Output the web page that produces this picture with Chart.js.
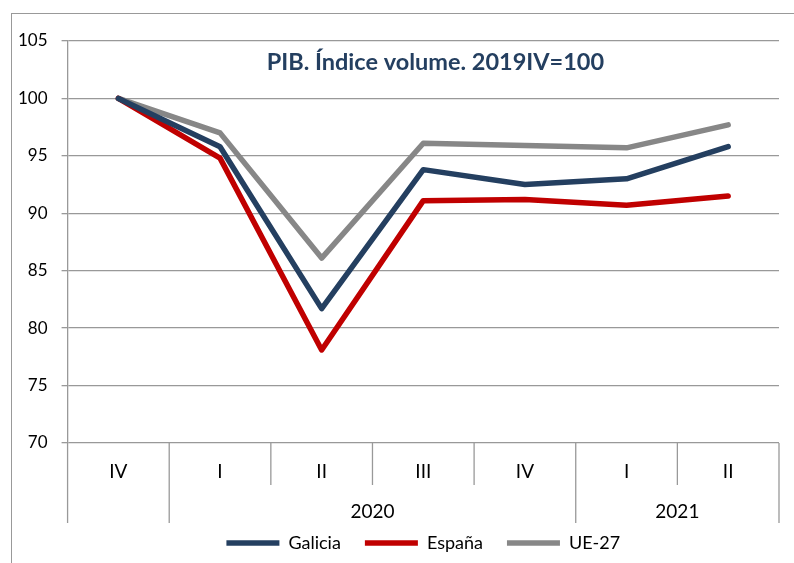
<!DOCTYPE html>
<html>
<head>
<meta charset="utf-8">
<script src="https://cdn.jsdelivr.net/npm/chart.js@4.4.0/dist/chart.umd.min.js"></script>
<style>
  html, body { margin: 0; padding: 0; background: #fff; }
  #wrap { position: relative; width: 794px; height: 563px; overflow: hidden; }
  #frame { position: absolute; left: 11px; top: 13px; width: 900px; height: 700px;
           border-left: 1.5px solid #999; border-top: 1.5px solid #999; }
  canvas { position: absolute; left: 0; top: 0; }
</style>
</head>
<body>
<div id="wrap">
  <div id="frame"></div>
  <canvas id="chart" width="794" height="563"></canvas>
</div>
<script>
  // Data
  const quarters = ['IV', 'I', 'II', 'III', 'IV', 'I', 'II'];
  const years = ['', '2020', '2020', '2020', '2020', '2021', '2021'];
  const galicia = [100, 95.8, 81.7, 93.8, 92.5, 93.0, 95.8];
  const espana = [100, 94.8, 78.1, 91.1, 91.2, 90.7, 91.5];
  const ue27 = [100, 97.0, 86.1, 96.1, 95.9, 95.7, 97.7];
  const titleText = 'PIB. Índice volume. 2019IV=100';

  const gridColor = '#999';
  const font = 'Lato';

  // Title drawn inside the plot, Excel style
  const innerTitle = {
    id: 'innerTitle',
    afterDraw(chart) {
      const { ctx, chartArea } = chart;
      ctx.save();
      ctx.font = `bold 23.5px ${font}`;
      ctx.fillStyle = '#243F60';
      ctx.textAlign = 'center';
      ctx.textBaseline = 'middle';
      ctx.fillText(titleText, chartArea.left + (chartArea.right - chartArea.left) * 0.517, chartArea.top + 21);
      ctx.restore();
    }
  };

  // Two-level category axis: separators + year labels
  const groupAxis = {
    id: 'groupAxis',
    afterDraw(chart) {
      const { ctx, chartArea, scales: { x } } = chart;
      const half = (x.getPixelForValue(1) - x.getPixelForValue(0)) / 2;
      const top = chartArea.bottom;
      ctx.save();
      ctx.strokeStyle = gridColor;
      ctx.lineWidth = 1.3;
      for (let i = 0; i <= quarters.length; i++) {
        const px = i < quarters.length ? x.getPixelForValue(i) - half : x.getPixelForValue(i - 1) + half;
        const yearEdge = i === 0 || i === quarters.length || years[i] !== years[i - 1];
        ctx.beginPath();
        ctx.moveTo(px, top);
        ctx.lineTo(px, top + (yearEdge ? 80 : 42));
        ctx.stroke();
      }
      ctx.fillStyle = '#000';
      ctx.font = `19px ${font}`;
      ctx.textAlign = 'center';
      ctx.textBaseline = 'middle';
      let start = 0;
      for (let i = 1; i <= years.length; i++) {
        if (i === years.length || years[i] !== years[start]) {
          const cx = (x.getPixelForValue(start) + x.getPixelForValue(i - 1)) / 2;
          ctx.fillText(years[start], cx, top + 69);
          start = i;
        }
      }
      ctx.restore();
    }
  };

  function series(label, data, color) {
    return {
      label, data,
      borderColor: color,
      backgroundColor: color,
      borderWidth: 5.5,
      borderCapStyle: 'round',
      borderJoinStyle: 'round',
      pointRadius: 0,
      tension: 0
    };
  }

  new Chart(document.getElementById('chart'), {
    type: 'line',
    data: {
      labels: quarters,
      datasets: [
        series('Galicia', galicia, '#243F60'),
        series('España', espana, '#C00000'),
        series('UE-27', ue27, '#878787')
      ]
    },
    options: {
      responsive: false,
      animation: false,
      layout: { padding: { left: 4, right: 15, top: 41, bottom: 1 } },
      plugins: {
        tooltip: { enabled: false },
        legend: {
          position: 'bottom',
          fullSize: false,
          labels: {
            usePointStyle: true,
            pointStyle: 'line',
            pointStyleWidth: 53,
            boxHeight: 18,
            padding: 24,
            color: '#000',
            font: { family: font, size: 18 }
          }
        }
      },
      scales: {
        x: {
          type: 'category',
          offset: true,
          grid: { display: false },
          border: { display: false },
          ticks: {
            color: '#000',
            font: { family: font, size: 19 },
            padding: 9,
            maxRotation: 0,
            autoSkip: false
          },
          afterFit(scale) { scale.height = 67; }
        },
        y: {
          min: 70,
          max: 105,
          ticks: {
            stepSize: 5,
            color: '#000',
            font: { family: font, size: 17 },
            padding: 14
          },
          grid: { color: gridColor, lineWidth: 1.3, tickLength: 6 },
          border: { display: true, color: gridColor, width: 1.3 }
        }
      }
    },
    plugins: [innerTitle, groupAxis]
  });
</script>
</body>
</html>
